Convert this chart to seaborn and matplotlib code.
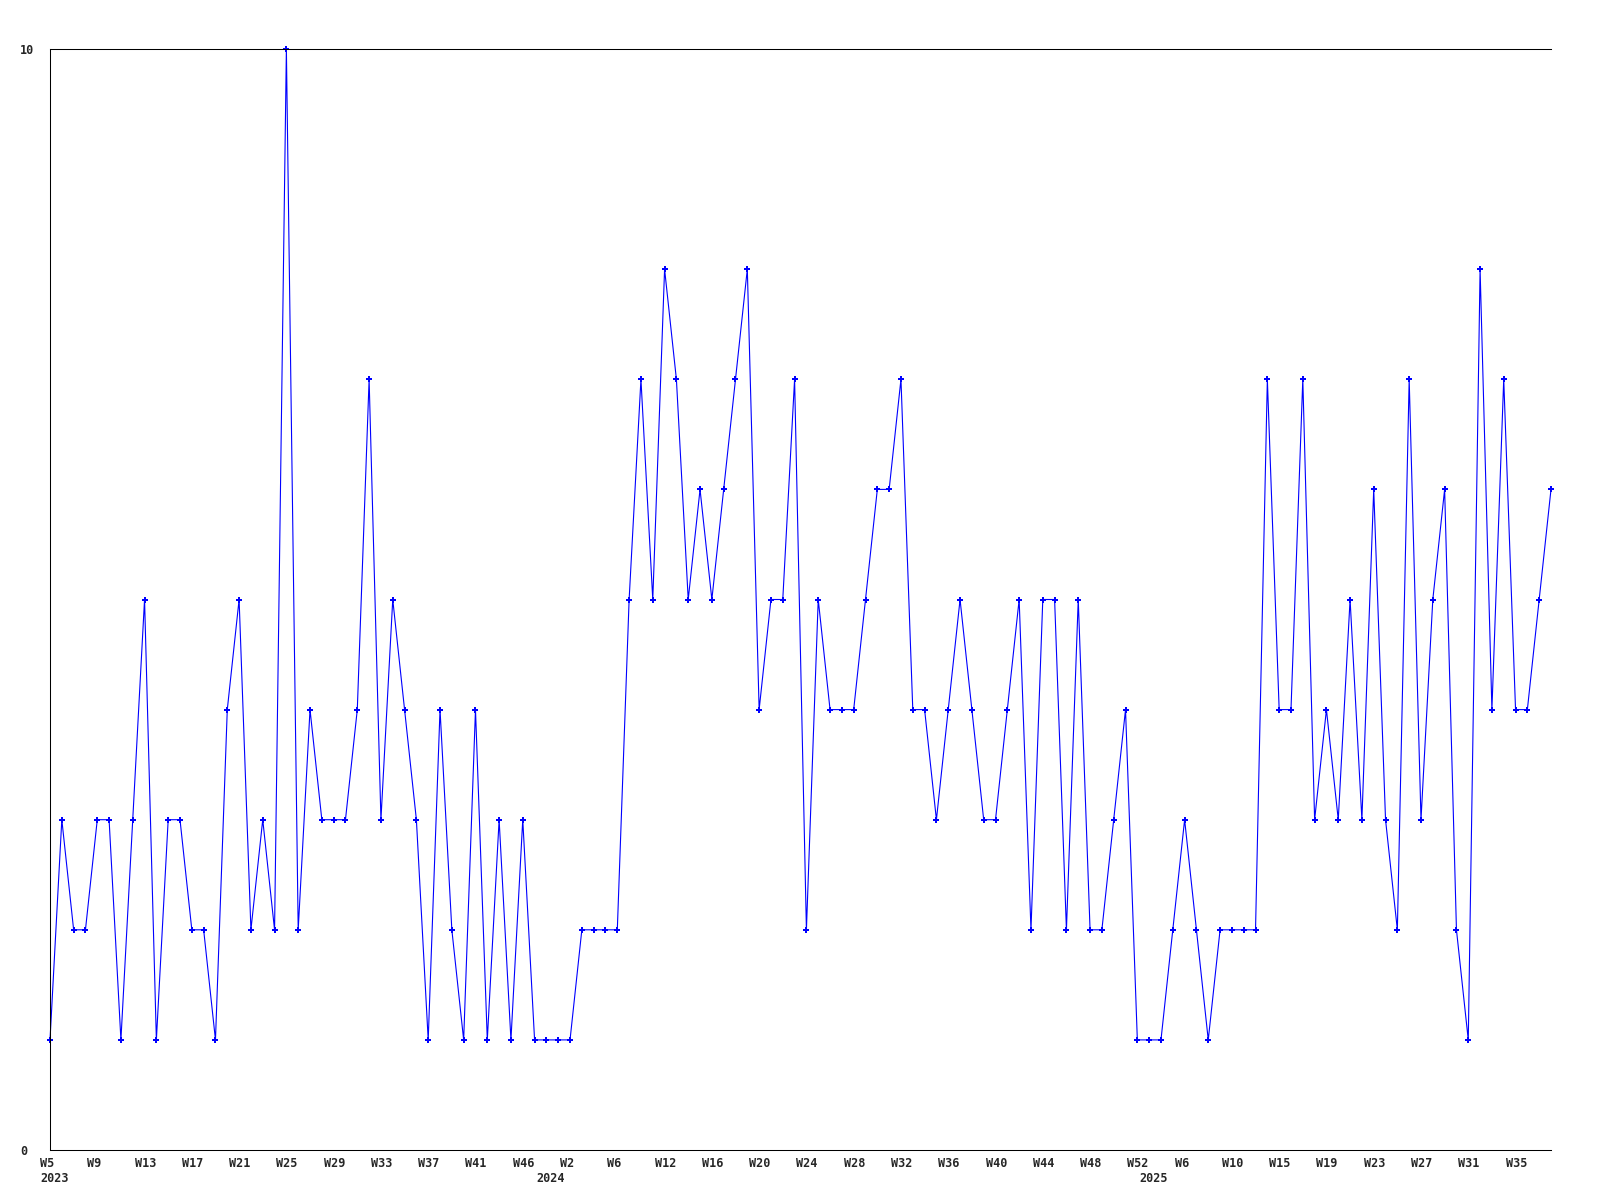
import matplotlib
matplotlib.use("Agg")
import matplotlib.pyplot as plt
import matplotlib.transforms as mtransforms
import seaborn as sns
import pandas as pd

# valores semanais (um ponto por semana registrada)
valores = [
    1, 3, 2, 2, 3, 3, 1, 3, 5, 1,
    3, 3, 2, 2, 1, 4, 5, 2, 3, 2,
    10, 2, 4, 3, 3, 3, 4, 7, 3, 5,
    4, 3, 1, 4, 2, 1, 4, 1, 3, 1,
    3, 1, 1, 1, 1, 2, 2, 2, 2, 5,
    7, 5, 8, 7, 5, 6, 5, 6, 7, 8,
    4, 5, 5, 7, 2, 5, 4, 4, 4, 5,
    6, 6, 7, 4, 4, 3, 4, 5, 4, 3,
    3, 4, 5, 2, 5, 5, 2, 5, 2, 2,
    3, 4, 1, 1, 1, 2, 3, 2, 1, 2,
    2, 2, 2, 7, 4, 4, 7, 3, 4, 3,
    5, 3, 6, 3, 2, 7, 3, 5, 6, 2,
    1, 8, 4, 7, 4, 4, 5, 6,
]

# rótulos das semanas (um a cada 4 pontos)
rotulos_semana = ["W5", "W9", "W13", "W17", "W21", "W25", "W29", "W33", "W37", "W41",
                  "W46", "W2", "W6", "W12", "W16", "W20", "W24", "W28", "W32", "W36",
                  "W40", "W44", "W48", "W52", "W6", "W10", "W15", "W19", "W23", "W27",
                  "W31", "W35"]

# anos e o índice do ponto onde cada um começa
anos = ["2023", "2024", "2025"]
inicio_ano = [0, 42, 93]

df = pd.DataFrame({"idx": range(len(valores)), "valor": valores})

sns.set_style("white")
plt.rcParams["font.family"] = ["DejaVu Sans Mono", "DejaVu Sans"]

fig = plt.figure(figsize=(16, 12), dpi=100)
ax = fig.add_axes([50 / 1600, 50 / 1200, 1501 / 1600, 1101 / 1200])

sns.lineplot(data=df, x="idx", y="valor", ax=ax, color="#0000ff", linewidth=0.8,
             marker="P", markersize=5, markeredgewidth=0, markerfacecolor="#0000ff",
             clip_on=False)

ax.set_xlim(0, len(valores) - 1)
ax.set_ylim(0, 10)
ax.set_xlabel("")
ax.set_ylabel("")

# eixos: esquerda, baixo e topo
for lado in ["left", "bottom", "top"]:
    ax.spines[lado].set_visible(True)
    ax.spines[lado].set_color("black")
    ax.spines[lado].set_linewidth(0.75)
ax.spines["right"].set_visible(False)

# ticks do eixo x (semana em cima, ano embaixo)
ax.xaxis.remove_overlapping_locs = False
ax.set_xticks(list(range(0, len(valores), 4)))
ax.set_xticklabels(rotulos_semana, fontsize=8.5, fontweight="bold")
ax.set_xticks(inicio_ano, minor=True)
ax.set_xticklabels(anos, minor=True, fontsize=8.5, fontweight="bold")
ax.tick_params(axis="x", which="major", length=0, pad=5)
ax.tick_params(axis="x", which="minor", length=0, pad=16)

desloc = mtransforms.ScaledTranslation(-10 / 100, 0, fig.dpi_scale_trans)
for lab in ax.get_xticklabels() + ax.get_xticklabels(minor=True):
    lab.set_horizontalalignment("left")
    lab.set_transform(lab.get_transform() + desloc)

# ticks do eixo y: apenas 0 e 10
ax.set_yticks([0, 10])
ax.set_yticklabels(["0", "10"], fontsize=8.5, fontweight="bold")
ax.tick_params(axis="y", length=0, pad=21.5)
for lab in ax.get_yticklabels():
    lab.set_horizontalalignment("left")

ax.grid(False)

fig.savefig("out.png", dpi=100)
